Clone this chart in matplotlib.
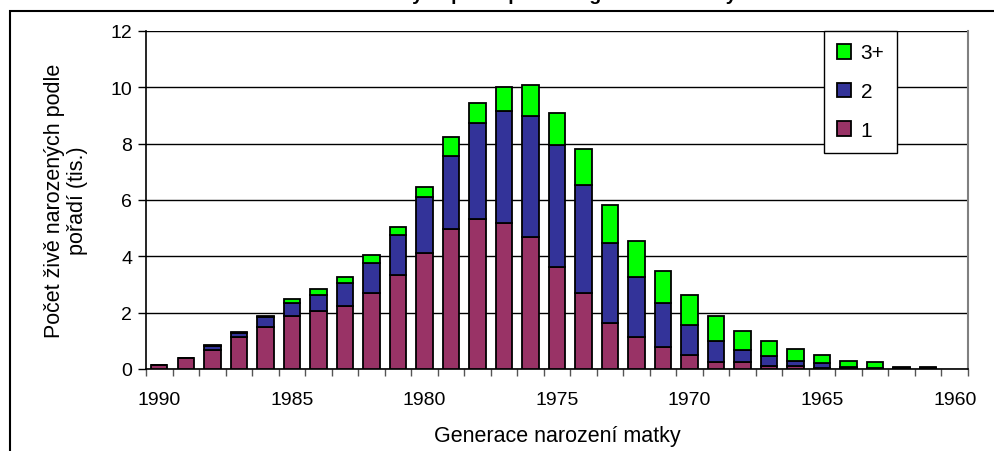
import matplotlib.pyplot as plt
import matplotlib.patches as mpatches
import numpy as np

plt.rcParams['font.family'] = ['Liberation Sans', 'DejaVu Sans']

# generations of mother, 1990 -> 1960
years = list(range(1990, 1959, -1))
first = [0.15, 0.38, 0.68, 1.12, 1.49, 1.89, 2.05, 2.25, 2.69, 3.34,
         4.11, 4.96, 5.31, 5.18, 4.67, 3.61, 2.69, 1.62, 1.12, 0.77,
         0.48, 0.26, 0.24, 0.12, 0.09, 0.05, 0.02, 0.01, 0.01, 0.01, 0]
second = [0, 0.01, 0.12, 0.15, 0.36, 0.45, 0.58, 0.79, 1.07, 1.40,
          1.98, 2.61, 3.41, 3.98, 4.33, 4.33, 3.83, 2.84, 2.13, 1.57,
          1.07, 0.72, 0.45, 0.35, 0.18, 0.15, 0.05, 0.03, 0.01, 0.01, 0]
third = [0, 0, 0.05, 0.03, 0.04, 0.14, 0.21, 0.24, 0.30, 0.30,
         0.37, 0.65, 0.73, 0.85, 1.09, 1.15, 1.29, 1.36, 1.28, 1.15,
         1.09, 0.89, 0.67, 0.52, 0.44, 0.31, 0.22, 0.20, 0.06, 0.06, 0]
labels = ['1', '2', '3+']
colors = ['#993366', '#333399', '#00ff00']

fig = plt.figure(figsize=(9.94, 4.52), dpi=100)
ax = fig.add_axes([146 / 994, 82 / 452, 822 / 994, 338 / 452])

x = np.arange(len(years))
first = np.array(first)
second = np.array(second)
third = np.array(third)
keep = (first + second + third) > 0

handles = []
bottom = np.zeros(len(years))
for vals, col, lab in zip([first, second, third], colors, labels):
    b = ax.bar(x[keep], vals[keep], width=0.62, bottom=bottom[keep], color=col,
               edgecolor='black', linewidth=1.3, label=lab, zorder=3)
    handles.append(b)
    bottom = bottom + vals

ax.set_xlim(-0.5, len(years) - 0.5)
ax.set_ylim(0, 12)
ax.set_yticks(range(0, 13, 2))
ax.yaxis.grid(True, color='black', linewidth=1.0, zorder=0)

ax.set_xticks(x[::5])
ax.set_xticklabels([str(y) for y in years[::5]])
ax.set_xticks(np.arange(-0.5, len(years), 1), minor=True)
ax.tick_params(axis='x', which='major', length=0, pad=16, labelsize=14)
ax.tick_params(axis='x', which='minor', length=5, width=1, color='#555555', direction='out')
ax.tick_params(axis='y', length=6, width=1, labelsize=14, pad=4)

for s in ['left', 'bottom']:
    ax.spines[s].set_color('black')
    ax.spines[s].set_linewidth(1.2)
ax.spines['right'].set_color('#808080')
ax.spines['right'].set_linewidth(1.5)
ax.spines['top'].set_visible(False)

ax.set_xlabel('Generace narození matky', fontsize=15.5, labelpad=12)
ax.set_ylabel('Počet živě narozených podle\npořadí (tis.)', fontsize=15.5,
              labelpad=16, linespacing=1.15)

leg = ax.legend(handles[::-1], labels[::-1], loc='upper left',
                bbox_to_anchor=(0.825, 1.0), borderaxespad=0, fontsize=15,
                frameon=True, fancybox=False, edgecolor='black', framealpha=1,
                handlelength=0.7, handleheight=0.7, handletextpad=0.45,
                labelspacing=0.95, borderpad=0.6)
leg.get_frame().set_linewidth(1.0)

# chart area frame, cut by the image edge
fig.add_artist(mpatches.Rectangle((10 / 994, -0.2), 1.2, 1.2 - 12 / 452,
                                  transform=fig.transFigure, fill=False,
                                  edgecolor='black', linewidth=1.5))
# title, cut off by the top edge in the reference
fig.text(0.49, 1.0, 'Počet živě narozených podle pořadí a generace matky',
         ha='center', va='baseline', fontsize=14, fontweight='bold')

fig.savefig('out.png', dpi=100)
